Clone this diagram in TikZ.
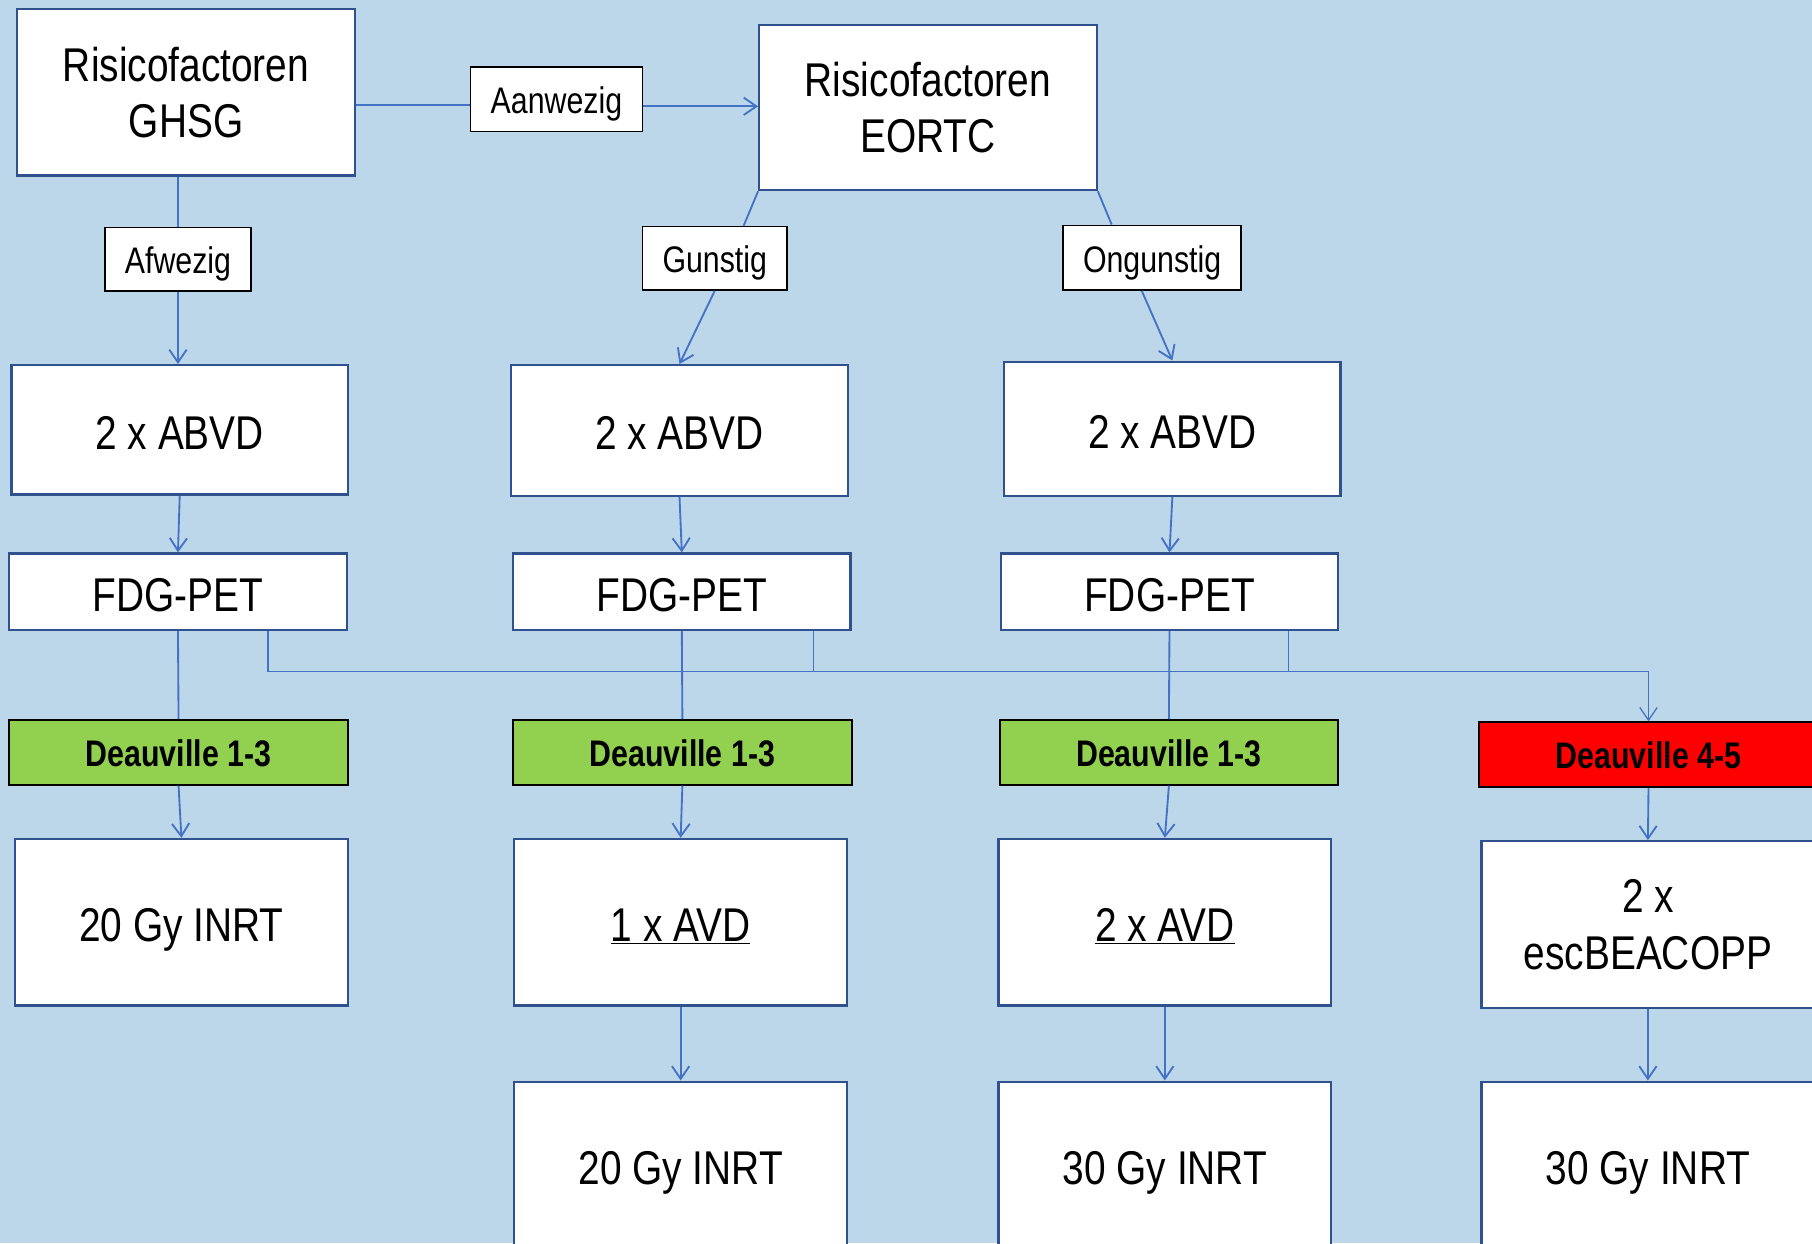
\documentclass[tikz,border=0pt]{standalone}
\usepackage{fontspec}
\setmainfont[FakeStretch=0.82]{Liberation Sans}
\usetikzlibrary{arrows.meta,positioning}
\definecolor{bgblue}{RGB}{189,215,234}
\definecolor{boxblue}{RGB}{47,82,143}
\definecolor{lineblue}{RGB}{68,114,196}
\definecolor{goodgreen}{RGB}{146,208,80}
\definecolor{badred}{RGB}{255,0,0}
\tikzset{
  box/.style={draw=boxblue, line width=2pt, fill=white, inner sep=0pt, align=center,
    font=\fontsize{41}{49}\selectfont},
  onebox/.style={box, text height=33.5pt, text depth=0pt},
  lbl/.style={draw=black, line width=1.3pt, fill=white, inner sep=0pt,
    font=\fontsize{32}{38}\selectfont, text height=25pt, text depth=0pt},
  deau/.style={draw=black, line width=1.6pt, inner sep=0pt,
    font=\bfseries\fontsize{32}{38}\selectfont, text height=24pt, text depth=0pt},
  conn/.style={draw=lineblue, line width=1.6pt},
  arr/.style={conn, -{Straight Barb[length=11pt,width=15pt]}},
  bus/.style={draw=lineblue, line width=1.1pt},
  busarr/.style={bus, -{Straight Barb[length=11pt,width=15pt]}}
}
\begin{document}
\begin{tikzpicture}[x=1pt,y=-1pt]
% canvas
\fill[bgblue] (0,0) rectangle (1568,1076);
\clip (0,0) rectangle (1568,1076);
\useasboundingbox (0,0) rectangle (1568,1076);

% risk factor stages
\node[box, minimum width=292pt, minimum height=144pt] (ghsg) at (161,80) {Risicofactoren\\GHSG};
\node[lbl, minimum width=149pt, minimum height=56pt] (aanw) at (481.5,86) {Aanwezig};
\node[box, minimum width=292pt, minimum height=143pt] (eortc) at (803,93) {Risicofactoren\\EORTC};
\node[lbl, minimum width=126pt, minimum height=55pt] (afw) at (154,224.5) {Afwezig};
\node[lbl, minimum width=125pt, minimum height=55pt] (gun) at (618.5,223.5) {Gunstig};
\node[lbl, minimum width=154pt, minimum height=56pt] (ong) at (997,223) {Ongunstig};

% induction
\node[onebox, minimum width=291pt, minimum height=112pt] (abvd1) at (155.5,372) {2 x ABVD};
\node[onebox, minimum width=292pt, minimum height=113pt] (abvd2) at (588,372.5) {2 x ABVD};
\node[onebox, minimum width=291pt, minimum height=116pt] (abvd3) at (1014.5,371) {2 x ABVD};

% interim PET
\node[onebox, minimum width=292pt, minimum height=66pt] (pet1) at (154,512) {FDG-PET};
\node[onebox, minimum width=292pt, minimum height=66pt] (pet2) at (590,512) {FDG-PET};
\node[onebox, minimum width=292pt, minimum height=66pt] (pet3) at (1012,512) {FDG-PET};

% Deauville scores
\node[deau, fill=goodgreen, minimum width=293pt, minimum height=56pt] (dv1) at (154.5,651) {Deauville 1-3};
\node[deau, fill=goodgreen, minimum width=293pt, minimum height=56pt] (dv2) at (590.5,651) {Deauville 1-3};
\node[deau, fill=goodgreen, minimum width=293pt, minimum height=56pt] (dv3) at (1011.5,651) {Deauville 1-3};
\node[deau, fill=badred, minimum width=293pt, minimum height=56pt] (dv4) at (1426.5,653) {Deauville 4-5};

% consolidation
\node[onebox, minimum width=288pt, minimum height=144pt] (c1) at (157,798) {20 Gy INRT};
\node[onebox, minimum width=288pt, minimum height=144pt] (c2) at (589,798) {\underline{1 x AVD}};
\node[onebox, minimum width=288pt, minimum height=144pt] (c3) at (1008,798) {\underline{2 x AVD}};
\node[box, minimum width=288pt, minimum height=144pt] (c4) at (1426,800) {2 x\\escBEACOPP};

% radiotherapy
\node[onebox, minimum width=288pt, minimum height=144pt] (r2) at (589,1008) {20 Gy INRT};
\node[onebox, minimum width=288pt, minimum height=144pt] (r3) at (1008,1008) {30 Gy INRT};
\node[onebox, minimum width=288pt, minimum height=144pt] (r4) at (1426,1008) {30 Gy INRT};

% risk factor connectors
\draw[conn] ([yshift=-5pt]ghsg.east |- aanw.west) -- ([yshift=-5pt]aanw.west);
\draw[arr] ([yshift=-6pt]aanw.east) -- ([yshift=-6pt]eortc.west |- aanw.east);
\draw[conn] (ghsg.south -| afw.north) -- (afw.north);
\draw[arr] (afw.south) -- (abvd1.north -| afw.south);
\draw[conn] (eortc.south west) -- ([xshift=25pt]gun.north);
\draw[arr] (gun.south) -- (abvd2.north);
\draw[conn] (eortc.south east) -- ([xshift=-35pt]ong.north);
\draw[arr] ([xshift=-9pt]ong.south) -- (abvd3.north);

% induction to PET
\draw[arr] (abvd1.south) -- (pet1.north);
\draw[arr] (abvd2.south) -- (pet2.north);
\draw[arr] (abvd3.south) -- (pet3.north);

% PET to negative result
\draw[conn] (pet1.south) -- (dv1.north);
\draw[conn] (pet2.south) -- (dv2.north);
\draw[conn] (pet3.south) -- (dv3.north);

% PET positive: shared bus to Deauville 4-5
\coordinate (hub) at (1426.5,581);
\coordinate (tap1) at ([xshift=78pt]pet1.south);
\coordinate (tap2) at ([xshift=114pt]pet2.south);
\coordinate (tap3) at ([xshift=103pt]pet3.south);
\draw[busarr] (tap1) |- (hub) -- (dv4.north);
\draw[bus] (tap2) -- (tap2 |- hub);
\draw[bus] (tap3) -- (tap3 |- hub);

% Deauville to consolidation
\draw[arr] (dv1.south) -- (c1.north);
\draw[arr] (dv2.south) -- (c2.north);
\draw[arr] (dv3.south) -- (c3.north);
\draw[arr] (dv4.south) -- (c4.north);

% consolidation to radiotherapy
\draw[arr] (c2.south) -- (r2.north);
\draw[arr] (c3.south) -- (r3.north);
\draw[arr] (c4.south) -- (r4.north);
\end{tikzpicture}
\end{document}
